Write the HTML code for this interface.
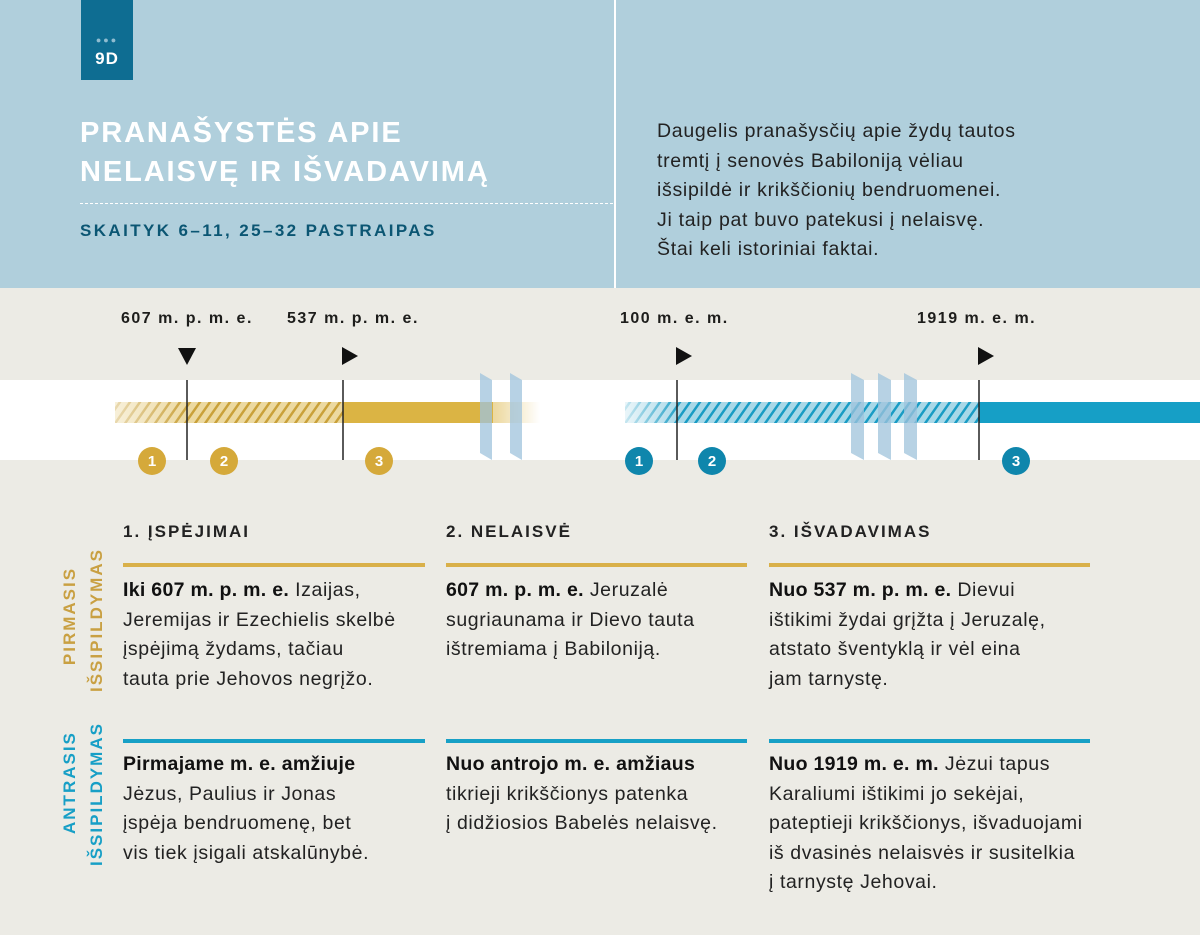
<!DOCTYPE html>
<html><head><meta charset="utf-8">
<style>
*{margin:0;padding:0;box-sizing:border-box}
body{width:1200px;height:935px;position:relative;overflow:hidden;background:#ecebe5;font-family:"Liberation Sans","DejaVu Sans",sans-serif;color:#1d1d1b}
.a{position:absolute;white-space:nowrap}
.hd{left:0;top:0;width:1200px;height:288px;background:#b0cfdc}
.badge{left:81px;top:0;width:52px;height:80px;background:#0e6d92;color:#fff;font-weight:bold;font-size:17px;text-align:center;letter-spacing:1px}
.t{color:#fff;font-weight:bold;font-size:29px;letter-spacing:1.9px;left:80px}
.sub{left:80px;top:221px;color:#0b5673;font-weight:bold;font-size:17px;letter-spacing:2.4px}
.para{left:657px;top:117px;font-size:19.5px;line-height:29.5px;color:#222;letter-spacing:0.7px}
.date{top:310px;font-weight:bold;font-size:16px;letter-spacing:1.5px}
.h{top:522px;font-size:17px;letter-spacing:2px;font-weight:bold;color:#222}
.tx{font-size:19.5px;line-height:29.5px;color:#222;letter-spacing:0.6px}
.tx b{color:#111;letter-spacing:0.3px}
.line{height:4px}
.v{font-weight:bold;font-size:17px;letter-spacing:2px;transform:rotate(-90deg);transform-origin:center}
</style></head><body>
<div class="a hd"></div>
<div class="a" style="left:614px;top:0;width:2px;height:288px;background:#fff"></div>
<div class="a" style="left:80px;top:203px;width:533px;border-top:1.5px dashed #fff"></div>
<div class="a badge"><div style="margin-top:36px;font-size:9px;letter-spacing:2px;color:#8fbcd0;line-height:8px">●●●</div><div style="margin-top:5px">9D</div></div>
<div class="a t" style="top:117px">PRANAŠYSTĖS APIE</div>
<div class="a t" style="top:156px">NELAISVĘ IR IŠVADAVIMĄ</div>
<div class="a sub">SKAITYK 6–11, 25–32 PASTRAIPAS</div>
<div class="a para">Daugelis pranašysčių apie žydų tautos<br>tremtį į senovės Babiloniją vėliau<br>išsipildė ir krikščionių bendruomenei.<br>Ji taip pat buvo patekusi į nelaisvę.<br>Štai keli istoriniai faktai.</div>

<div class="a date" style="left:121px">607 m. p. m. e.</div>
<div class="a date" style="left:287px">537 m. p. m. e.</div>
<div class="a date" style="left:620px">100 m. e. m.</div>
<div class="a date" style="left:917px">1919 m. e. m.</div>

<svg class="a" style="left:0;top:340px" width="1200" height="150" viewBox="0 340 1200 150">
<defs>
<pattern id="hg" width="10" height="20" patternUnits="userSpaceOnUse" patternTransform="skewX(-35)"><rect width="10" height="20" fill="#ecd9a0"/><rect width="3" height="20" fill="#c9a13a"/></pattern>
<pattern id="hb" width="10" height="20" patternUnits="userSpaceOnUse" patternTransform="skewX(-35)"><rect width="10" height="20" fill="#a8d8e8"/><rect width="3" height="20" fill="#1a9cc4"/></pattern>
<linearGradient id="fg" x1="0" x2="1"><stop offset="0" stop-color="#fff" stop-opacity="1"/><stop offset="1" stop-color="#fff" stop-opacity="0"/></linearGradient>
<linearGradient id="fg2" x1="0" x2="1"><stop offset="0" stop-color="#fff" stop-opacity="0"/><stop offset="1" stop-color="#fff" stop-opacity="1"/></linearGradient>
</defs>
<rect x="0" y="380" width="1200" height="80" fill="#fff"/>
<rect x="115" y="402" width="228" height="21" fill="url(#hg)"/>
<rect x="115" y="400" width="75" height="25" fill="url(#fg)" opacity=".6"/>
<rect x="343" y="402" width="150" height="21" fill="#dbb444"/>
<rect x="490" y="402" width="50" height="21" fill="#dbb444" opacity=".5"/>
<rect x="495" y="400" width="45" height="25" fill="url(#fg2)"/>
<rect x="625" y="402" width="354" height="21" fill="url(#hb)"/>
<rect x="622" y="400" width="60" height="25" fill="url(#fg)" opacity=".8"/>
<rect x="979" y="402" width="221" height="21" fill="#169fc6"/>
<g fill="#9fc3dc" opacity=".75">
<polygon points="480,373 492,380 492,460 480,453"/><polygon points="510,373 522,380 522,460 510,453"/>
<polygon points="851,373 864,380 864,460 851,453"/><polygon points="878,373 891,380 891,460 878,453"/><polygon points="904,373 917,380 917,460 904,453"/>
</g>
<g stroke="#222" stroke-width="1.5"><line x1="187" y1="380" x2="187" y2="460"/><line x1="343" y1="380" x2="343" y2="460"/><line x1="677" y1="380" x2="677" y2="460"/><line x1="979" y1="380" x2="979" y2="460"/></g>
<g fill="#111"><polygon points="178,348 196,348 187,365"/><polygon points="342,347 358,356 342,365"/><polygon points="676,347 692,356 676,365"/><polygon points="978,347 994,356 978,365"/></g>
<g font-family="Liberation Sans,sans-serif" font-weight="bold" font-size="15" fill="#fff" text-anchor="middle">
<circle cx="152" cy="461" r="14" fill="#d5a93a"/><text x="152" y="466">1</text>
<circle cx="224" cy="461" r="14" fill="#d5a93a"/><text x="224" y="466">2</text>
<circle cx="379" cy="461" r="14" fill="#d5a93a"/><text x="379" y="466">3</text>
<circle cx="639" cy="461" r="14" fill="#0f86ac"/><text x="639" y="466">1</text>
<circle cx="712" cy="461" r="14" fill="#0f86ac"/><text x="712" y="466">2</text>
<circle cx="1016" cy="461" r="14" fill="#0f86ac"/><text x="1016" y="466">3</text>
</g>
</svg>

<div class="a h" style="left:123px">1. ĮSPĖJIMAI</div>
<div class="a h" style="left:446px">2. NELAISVĖ</div>
<div class="a h" style="left:769px">3. IŠVADAVIMAS</div>

<div class="a line" style="left:123px;top:563px;width:302px;background:#d9b049"></div>
<div class="a line" style="left:446px;top:563px;width:301px;background:#d9b049"></div>
<div class="a line" style="left:769px;top:563px;width:321px;background:#d9b049"></div>
<div class="a line" style="left:123px;top:739px;width:302px;background:#17a0c6"></div>
<div class="a line" style="left:446px;top:739px;width:301px;background:#17a0c6"></div>
<div class="a line" style="left:769px;top:739px;width:321px;background:#17a0c6"></div>

<div class="a tx" style="left:123px;top:576px"><b>Iki 607 m. p. m. e.</b> Izaijas,<br>Jeremijas ir Ezechielis skelbė<br>įspėjimą žydams, tačiau<br>tauta prie Jehovos negrįžo.</div>
<div class="a tx" style="left:446px;top:576px"><b>607 m. p. m. e.</b> Jeruzalė<br>sugriaunama ir Dievo tauta<br>ištremiama į Babiloniją.</div>
<div class="a tx" style="left:769px;top:576px"><b>Nuo 537 m. p. m. e.</b> Dievui<br>ištikimi žydai grįžta į Jeruzalę,<br>atstato šventyklą ir vėl eina<br>jam tarnystę.</div>
<div class="a tx" style="left:123px;top:750px"><b>Pirmajame m. e. amžiuje</b><br>Jėzus, Paulius ir Jonas<br>įspėja bendruomenę, bet<br>vis tiek įsigali atskalūnybė.</div>
<div class="a tx" style="left:446px;top:750px"><b>Nuo antrojo m. e. amžiaus</b><br>tikrieji krikščionys patenka<br>į didžiosios Babelės nelaisvę.</div>
<div class="a tx" style="left:769px;top:750px"><b>Nuo 1919 m. e. m.</b> Jėzui tapus<br>Karaliumi ištikimi jo sekėjai,<br>pateptieji krikščionys, išvaduojami<br>iš dvasinės nelaisvės ir susitelkia<br>į tarnystę Jehovai.</div>

<div class="a v" style="left:20px;top:606px;width:100px;text-align:center;color:#c9a042">PIRMASIS</div>
<div class="a v" style="left:37px;top:622px;width:120px;text-align:center;color:#c9a042">IŠSIPILDYMAS</div>
<div class="a v" style="left:20px;top:774px;width:100px;text-align:center;color:#179fc6">ANTRASIS</div>
<div class="a v" style="left:37px;top:796px;width:120px;text-align:center;color:#179fc6">IŠSIPILDYMAS</div>
</body></html>
